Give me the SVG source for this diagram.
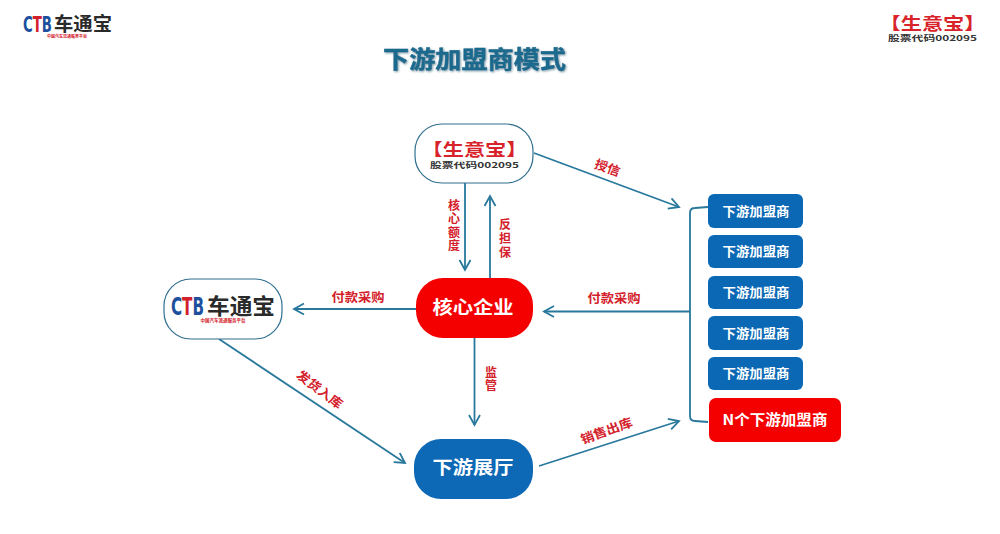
<svg xmlns="http://www.w3.org/2000/svg" width="1000" height="534" viewBox="0 0 1000 534">
<style>
text{font-family:"Noto Sans CJK SC","Liberation Sans",sans-serif;font-weight:700;text-anchor:middle}
.c{fill:none;stroke:#28789c;stroke-width:1.8;marker-end:url(#a)}
.l{fill:none;stroke:#28789c;stroke-width:1.8}
.lb{fill:#d3202a;font-size:12.500px}
.v{font-size:12px}
.w{fill:#fff}
.o{fill:#fff;stroke:#2f6f8f;stroke-width:1.2}
.blue{fill:#0b68b5}
.red{fill:#f40000}
.rb{fill:#d8232a}
.bk{fill:#333}
.lg{fill:#2a2a2a}
.lb1{fill:#1c4f9c;font-family:"DejaVu Sans",sans-serif}
.lr{fill:#d3202a}
</style>
<defs>
<marker id="a" markerUnits="userSpaceOnUse" markerWidth="14" markerHeight="14" refX="11" refY="6" orient="auto"><path d="M1 0.5L11 6L1 11.5" fill="none" stroke="#28789c" stroke-width="1.8"/></marker>
<filter id="s" x="-10%" y="-10%" width="120%" height="130%"><feDropShadow dx="1" dy="1" stdDeviation="0.8" flood-color="#7a9aa8"/></filter>
<filter id="g" x="-10%" y="-10%" width="120%" height="120%"><feGaussianBlur stdDeviation="0.7"/></filter>
</defs>
<rect width="1000" height="534" fill="#fff"/>
<g id="logo-ctb">
<text x="37.500" y="32" font-size="21" class="lb1" textLength="29" lengthAdjust="spacingAndGlyphs">C<tspan fill="#d3202a">T</tspan>B</text>
<text x="83" y="31" font-size="19" class="lg" textLength="58" lengthAdjust="spacingAndGlyphs">车通宝</text>
<text x="67" y="38" font-size="4" class="lr">中国汽车流通服务平台</text>
</g>
<g id="logo-sys">
<text x="932.500" y="30" font-size="17" class="rb" textLength="106" lengthAdjust="spacingAndGlyphs">【生意宝】</text>
<text x="932.500" y="41" font-size="8" class="bk" textLength="89" lengthAdjust="spacingAndGlyphs">股票代码002095</text>
</g>
<g id="title"><text x="474.500" y="68" font-size="24" fill="#1a6a8e" stroke="#1a6a8e" stroke-width="0.5" filter="url(#s)" textLength="183" lengthAdjust="spacingAndGlyphs">下游加盟商模式</text></g>
<g id="connectors">
<path class="c" d="M465 183V270"/>
<path class="c" d="M490 278V196"/>
<path class="c" d="M416 309H294"/>
<path class="c" d="M690 311.500H544"/>
<path class="c" d="M474.500 338V425"/>
<path class="c" d="M219 339L405 463"/>
<path class="c" d="M539 466L679 421"/>
<path class="c" d="M534 153L679 207"/>
<path class="l" d="M708 207L695 208Q690 208 690 213V416Q690 421 695 421L708 422"/>
</g>
<g id="labels">
<text class="lb" transform="translate(606 172) rotate(20)" textLength="26" lengthAdjust="spacingAndGlyphs">授信</text>
<text class="lb v"><tspan x="454" y="209.500">核</tspan><tspan x="454" y="223">心</tspan><tspan x="454" y="236.500">额</tspan><tspan x="454" y="250">度</tspan></text>
<text class="lb v"><tspan x="505" y="229">反</tspan><tspan x="505" y="243">担</tspan><tspan x="505" y="256.500">保</tspan></text>
<text class="lb" x="358" y="302" textLength="53" lengthAdjust="spacingAndGlyphs">付款采购</text>
<text class="lb" x="614" y="303" textLength="53" lengthAdjust="spacingAndGlyphs">付款采购</text>
<text class="lb v"><tspan x="491" y="376.500">监</tspan><tspan x="491" y="390">管</tspan></text>
<text class="lb" transform="translate(317 393) rotate(37)" textLength="54" lengthAdjust="spacingAndGlyphs">发货入库</text>
<text class="lb" transform="translate(608 435) rotate(-20)" textLength="54" lengthAdjust="spacingAndGlyphs">销售出库</text>
</g>
<g id="node-sys">
<rect class="o" x="415" y="124" width="118" height="59" rx="27"/>
<text x="474.500" y="156" font-size="17" class="rb" textLength="106" lengthAdjust="spacingAndGlyphs">【生意宝】</text>
<text x="474.500" y="167.500" font-size="8" class="bk" textLength="89" lengthAdjust="spacingAndGlyphs">股票代码002095</text>
</g>
<g id="node-ctb">
<rect class="o" x="164" y="279" width="118" height="60" rx="27"/>
<text x="187.500" y="315" font-size="24" class="lb1" textLength="33" lengthAdjust="spacingAndGlyphs">C<tspan fill="#d3202a">T</tspan>B</text>
<text x="241" y="314" font-size="22" class="lg" textLength="68" lengthAdjust="spacingAndGlyphs">车通宝</text>
<text x="223" y="321.500" font-size="4.500" class="lr">中国汽车流通服务平台</text>
</g>
<g id="node-core">
<rect class="red" x="416" y="278" width="117" height="60" rx="27" filter="url(#g)"/>
<text class="w" x="473" y="314" font-size="18" textLength="81" lengthAdjust="spacingAndGlyphs">核心企业</text>
</g>
<g id="node-hall">
<rect class="blue" x="414" y="439" width="119" height="60" rx="27" filter="url(#g)"/>
<text class="w" x="473" y="474" font-size="18" textLength="81" lengthAdjust="spacingAndGlyphs">下游展厅</text>
</g>
<g id="node-d1"><rect class="blue" x="708" y="194" width="95" height="34" rx="6"/><text class="w" x="756" y="215.500" font-size="13" textLength="67" lengthAdjust="spacingAndGlyphs">下游加盟商</text></g>
<g id="node-d2"><rect class="blue" x="708" y="235" width="95" height="33" rx="6"/><text class="w" x="756" y="256" font-size="13" textLength="67" lengthAdjust="spacingAndGlyphs">下游加盟商</text></g>
<g id="node-d3"><rect class="blue" x="708" y="276" width="95" height="33" rx="6"/><text class="w" x="756" y="296.500" font-size="13" textLength="67" lengthAdjust="spacingAndGlyphs">下游加盟商</text></g>
<g id="node-d4"><rect class="blue" x="708" y="316" width="95" height="34" rx="6"/><text class="w" x="756" y="337.500" font-size="13" textLength="67" lengthAdjust="spacingAndGlyphs">下游加盟商</text></g>
<g id="node-d5"><rect class="blue" x="708" y="357" width="95" height="33" rx="6"/><text class="w" x="756" y="377.500" font-size="13" textLength="67" lengthAdjust="spacingAndGlyphs">下游加盟商</text></g>
<g id="node-n"><rect class="red" x="709" y="398" width="132" height="44" rx="7"/><text class="w" x="775" y="425" font-size="14.500" textLength="105" lengthAdjust="spacingAndGlyphs">N个下游加盟商</text></g>
</svg>
